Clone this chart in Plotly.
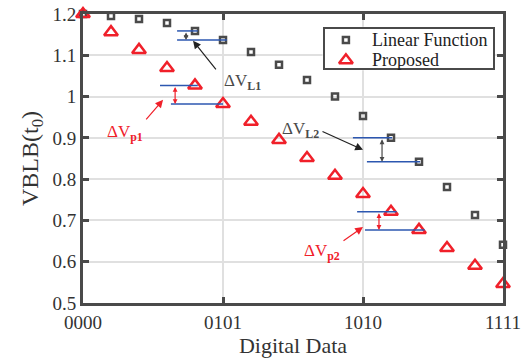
import plotly.graph_objects as go

x_steps = list(range(16))
tick_vals = [0, 5, 10, 15]
tick_text = ["0000", "0101", "1010", "1111"]

linear_vals = [1.200, 1.195, 1.188, 1.178, 1.159, 1.137, 1.108, 1.077,
               1.040, 1.000, 0.953, 0.900, 0.842, 0.781, 0.713, 0.641]
proposed_vals = [1.200, 1.156, 1.113, 1.069, 1.027, 0.982, 0.939, 0.895,
                 0.851, 0.808, 0.764, 0.721, 0.677, 0.633, 0.590, 0.546]
series_names = ["Linear Function", "Proposed"]

FONT = "Liberation Serif"
GRAY = "#4a4a4a"
RED = "#f0202a"
BLUE = "#2c57b0"

sq_marker = dict(symbol="square-open", size=6, color=GRAY, line=dict(width=2.5, color=GRAY))
tri_marker = dict(symbol="triangle-up-open", size=12, color=RED, line=dict(width=2.5, color=RED))

fig = go.Figure()
fig.add_trace(go.Scatter(x=x_steps, y=linear_vals, mode="markers", name=series_names[0],
                         cliponaxis=False, marker=sq_marker, showlegend=False))
fig.add_trace(go.Scatter(x=x_steps, y=proposed_vals, mode="markers", name=series_names[1],
                         cliponaxis=False, marker=tri_marker, showlegend=False))

# delta guide lines: (series, index_upper, index_lower, x-span upper, x-span lower, arrow x, color)
deltas = [
    (linear_vals, 4, 5, (3.36, 4.1), (3.36, 5.14), 3.68, GRAY),
    (proposed_vals, 4, 5, (2.75, 4.1), (3.14, 5.0), 3.29, RED),
    (linear_vals, 11, 12, (9.64, 11.04), (10.14, 12.04), 10.68, GRAY),
    (proposed_vals, 11, 12, (9.79, 11.2), (10.07, 12.2), 10.57, RED),
]
for vals, iu, il, su, sl, ax_x, col in deltas:
    fig.add_shape(type="line", x0=su[0], x1=su[1], y0=vals[iu], y1=vals[iu],
                  line=dict(color=BLUE, width=1.5))
    fig.add_shape(type="line", x0=sl[0], x1=sl[1], y0=vals[il], y1=vals[il],
                  line=dict(color=BLUE, width=1.5))
    fig.add_annotation(x=ax_x, y=vals[il], ax=ax_x, ay=vals[iu], xref="x", yref="y",
                       axref="x", ayref="y", text="", showarrow=True,
                       arrowhead=2, startarrowhead=2, arrowside="end+start",
                       arrowsize=0.8, startarrowsize=0.8, arrowwidth=1.2, arrowcolor=col,
                       standoff=0, startstandoff=0)

# label arrows: (tail x, tail y, head x, head y, color)
pointers = [
    (4.79, 1.062, 3.93, 1.135, "#222222"),
    (2.21, 0.941, 2.86, 0.992, RED),
    (8.50, 0.917, 10.0, 0.871, "#222222"),
    (9.25, 0.648, 10.0, 0.684, RED),
]
for tx, ty, hx, hy, col in pointers:
    fig.add_annotation(x=hx, y=hy, ax=tx, ay=ty, xref="x", yref="y", axref="x", ayref="y",
                       text="", showarrow=True, arrowhead=2, arrowsize=1.3,
                       arrowwidth=1.2, arrowcolor=col)

labels = [
    (5.7, 1.035, "ΔV<sub><b>L1</b></sub>", GRAY),
    (1.5, 0.912, "ΔV<sub><b>p1</b></sub>", RED),
    (7.75, 0.919, "ΔV<sub><b>L2</b></sub>", GRAY),
    (8.55, 0.624, "ΔV<sub><b>p2</b></sub>", RED),
]
for lx, ly, t, col in labels:
    fig.add_annotation(x=lx, y=ly, xref="x", yref="y", text=t, showarrow=False,
                       font=dict(family=FONT, size=17, color=col))

# ---- hand-built legend (box in plot-area fractions, on an overlay 0..1 axis) ----
leg_box = (0.571, 0.806, 0.981, 0.955)
leg_rows = [0.910, 0.840]
leg_mark_x = 0.626
leg_text_x = 0.683
bx0, by0, bx1, by1 = leg_box
fig.add_trace(go.Scatter(x=[bx0, bx1, bx1, bx0, bx0], y=[by0, by0, by1, by1, by0],
                         xaxis="x2", yaxis="y2", mode="lines", fill="toself",
                         fillcolor="white", line=dict(color="white", width=0.5),
                         cliponaxis=False, showlegend=False, hoverinfo="skip"))
fig.add_trace(go.Scatter(x=[leg_mark_x], y=[leg_rows[0]], xaxis="x2", yaxis="y2",
                         mode="markers", marker=sq_marker, cliponaxis=False,
                         showlegend=False, hoverinfo="skip"))
fig.add_trace(go.Scatter(x=[leg_mark_x], y=[leg_rows[1]], xaxis="x2", yaxis="y2",
                         mode="markers", marker=tri_marker, cliponaxis=False,
                         showlegend=False, hoverinfo="skip"))
# legend frame as a bordered, transparent annotation box
fig.add_annotation(x=(bx0 + bx1) / 2, y=(by0 + by1) / 2, xref="paper", yref="paper",
                   xanchor="center", yanchor="middle", text=" ", showarrow=False,
                   width=168, height=39, borderpad=0, bordercolor=GRAY, borderwidth=2,
                   bgcolor="rgba(0,0,0,0)", font=dict(family=FONT, size=12))
for name, ry in zip(series_names, leg_rows):
    fig.add_annotation(x=leg_text_x, y=ry, xref="paper", yref="paper", text=name,
                       showarrow=False, xanchor="left", yanchor="middle",
                       font=dict(family=FONT, size=18, color="#222"))

axis_common = dict(showline=True, linewidth=3, linecolor=GRAY, mirror="ticks",
                   ticks="inside", ticklen=6, tickwidth=2.5, tickcolor=GRAY,
                   showgrid=True, gridcolor="#e0e0e0", gridwidth=1.5,
                   zeroline=False, automargin=False,
                   tickfont=dict(family=FONT, size=19, color="#333"))

fig.update_xaxes(range=[0, 15], tickvals=tick_vals, ticktext=tick_text,
                 title=dict(text="Digital Data", font=dict(family=FONT, size=22, color="#333"),
                            standoff=2),
                 **axis_common)
fig.update_yaxes(range=[0.5, 1.2], dtick=0.1, tick0=0.5,
                 title=dict(text="VBLB(t<sub>0</sub>)", font=dict(family=FONT, size=24, color="#333"),
                            standoff=8),
                 **axis_common)

fig.update_layout(
    width=523, height=358,
    margin=dict(l=83, r=20, t=14, b=55),
    plot_bgcolor="white", paper_bgcolor="white",
    showlegend=False,
    xaxis2=dict(overlaying="x", range=[0, 1], visible=False, fixedrange=True),
    yaxis2=dict(overlaying="y", range=[0, 1], visible=False, fixedrange=True),
)

fig.write_html("out.html", config={"displayModeBar": False},
               post_script="document.body.style.margin='0';document.body.style.overflow='hidden';")
